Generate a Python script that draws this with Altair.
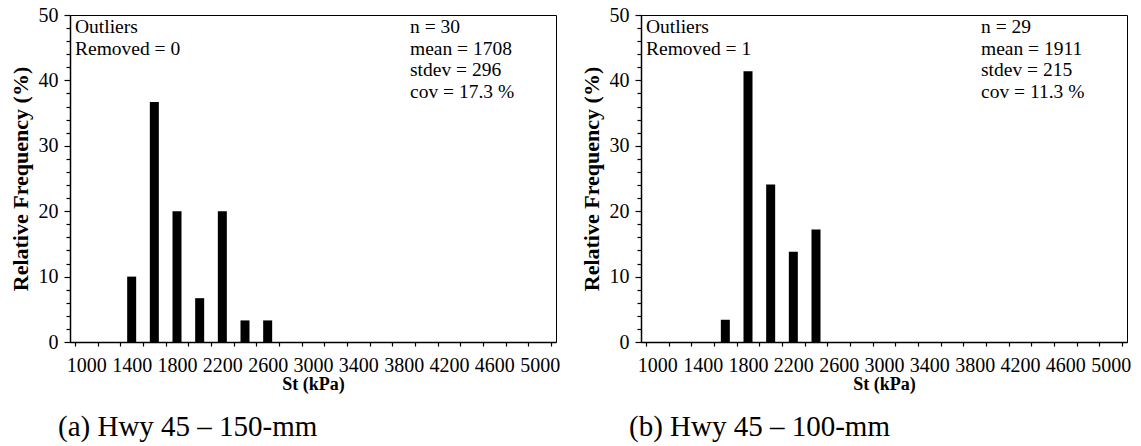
import altair as alt
import pandas as pd

# Relative-frequency histograms of St (kPa), bin centres every 200 kPa
st_a = [1400, 1600, 1800, 2000, 2200, 2400, 2600]
freq_a = [10.0, 36.7, 20.0, 6.7, 20.0, 3.3, 3.3]
st_b = [1600, 1800, 2000, 2200, 2400]
freq_b = [3.4, 41.4, 24.1, 13.8, 17.2]

outliers_a = ["Outliers", "Removed = 0"]
outliers_b = ["Outliers", "Removed = 1"]
stats_a = ["n = 30", "mean = 1708", "stdev = 296", "cov = 17.3 %"]
stats_b = ["n = 29", "mean = 1911", "stdev = 215", "cov = 11.3 %"]
caption_a = "(a) Hwy 45 \u2013 150-mm"
caption_b = "(b) Hwy 45 \u2013 100-mm"

x_ticks = list(range(900, 5101, 100))
y_ticks = list(range(0, 51, 2))

SERIF = "Times New Roman, Liberation Serif, serif"
W, H = 486, 327


def panel(st, freq, outliers, stats, caption):
    df = pd.DataFrame({"St": st, "Freq": freq})
    bars = alt.Chart(df).mark_bar(color="black", size=9).encode(
        x=alt.X(
            "St:Q",
            scale=alt.Scale(domain=[900, 5100], nice=False, zero=False),
            axis=alt.Axis(
                title="St (kPa)",
                values=x_ticks,
                grid=False,
                labelExpr="(datum.value - 1000) % 400 == 0 ? datum.value : ''",
                labelOverlap=False,
                labelFlush=False,
                tickOpacity=alt.ExprRef("datum.value % 200 == 100 ? 1 : 0"),
                tickSize=4,
                labelPadding=9,
                titlePadding=0,
                titleFontSize=18,
            ),
        ),
        y=alt.Y(
            "Freq:Q",
            scale=alt.Scale(domain=[0, 50], nice=False),
            axis=alt.Axis(
                title="Relative Frequency (%)",
                values=y_ticks,
                grid=False,
                labelExpr="datum.value % 10 == 0 ? datum.value : ''",
                labelOverlap=False,
                tickSize=alt.ExprRef("datum.value % 10 == 0 ? 6 : 4"),
                labelPadding=6,
                titlePadding=6,
                titleFontSize=22,
            ),
        ),
    )
    # one-row source so each note block is drawn once
    note_src = alt.Chart(pd.DataFrame({"row": [0]}))
    left_note = note_src.mark_text(
        text=outliers, align="left", baseline="top", font=SERIF,
        fontSize=19.5, lineHeight=21.5, color="black",
    ).encode(x=alt.value(5), y=alt.value(3))
    right_note = note_src.mark_text(
        text=stats, align="left", baseline="top", font=SERIF,
        fontSize=19.5, lineHeight=21.5, color="black",
    ).encode(x=alt.value(340), y=alt.value(3))
    return alt.layer(bars, left_note, right_note).properties(
        width=W,
        height=H,
        title=alt.TitleParams(
            caption, orient="bottom", anchor="start", frame="group",
            font=SERIF, fontSize=29, fontWeight="normal", color="black",
            dx=-12, offset=20,
        ),
    )


chart = alt.hconcat(
    panel(st_a, freq_a, outliers_a, stats_a, caption_a),
    panel(st_b, freq_b, outliers_b, stats_b, caption_b),
    spacing=18,
).properties(
    padding={"left": 8, "top": 4, "right": 5, "bottom": 0},
    background="white",
).configure_view(
    stroke="black", strokeWidth=1,
).configure_axis(
    labelFont=SERIF, labelFontSize=20, labelColor="black",
    titleFont=SERIF, titleFontWeight="bold", titleColor="black",
    domainColor="black", domainWidth=1.5, tickColor="black", tickWidth=1.2,
)

chart.save("out.html", embed_options={"renderer": "svg", "actions": False})
